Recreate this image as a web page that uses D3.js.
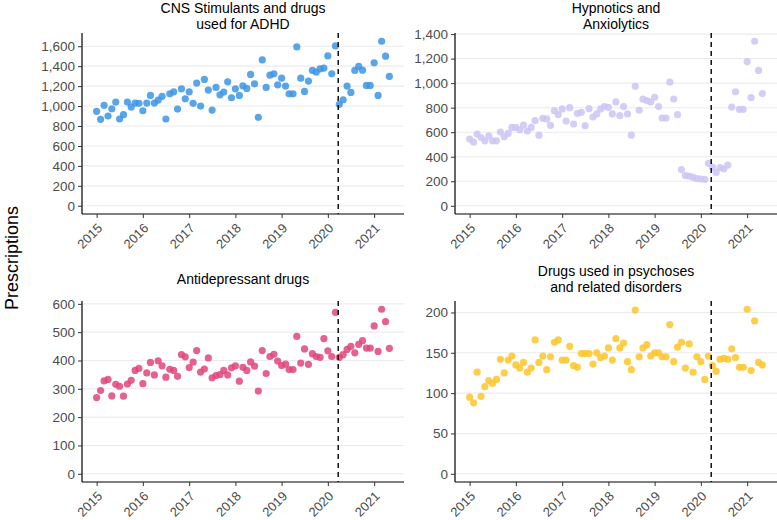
<!DOCTYPE html>
<html>
<head>
<meta charset="utf-8">
<script src="https://cdn.jsdelivr.net/npm/d3@7"></script>
<style>
  html, body { margin: 0; padding: 0; background: #fff; }
  svg { display: block; font-family: "Liberation Sans", Arial, sans-serif; }
</style>
</head>
<body>
<svg id="chart" width="777" height="520"></svg>
<script>
// ---- data ----
const startMonth = "2015-01-01";
const endMonth = "2021-05-01";
const lockdownDate = "2020-03-23";
const yearTicks = ["2015", "2016", "2017", "2018", "2019", "2020", "2021"];

const titles = [
  ["CNS Stimulants and drugs", "used for ADHD"],
  ["Hypnotics and", "Anxiolytics"],
  ["Antidepressant drugs"],
  ["Drugs used in psychoses", "and related disorders"]
];

const adhd = [947,867,1007,900,973,1040,870,913,1040,990,
  1030,1027,953,1030,1107,1030,1060,1097,870,1123,
  1143,970,1173,1073,1143,1027,1230,1000,1267,1160,
  960,1187,1113,1140,1243,1083,1173,1107,1203,1177,
  1317,1223,887,1463,1187,1310,1323,1213,1280,1200,
  1123,1123,1593,1280,1147,1250,1357,1340,1373,1380,
  1503,1323,1603,1017,1063,1200,1137,1357,1397,1360,
  1207,1207,1433,1107,1650,1500,1297];

const hypnotics = [544,519,585,557,530,571,530,530,601,563,
  590,639,639,620,658,609,639,694,576,713,
  708,656,776,743,790,691,800,667,754,762,
  653,792,724,749,790,809,803,749,847,735,
  809,749,576,975,779,869,858,847,885,809,
  716,716,1008,871,743,295,247,241,232,222,
  218,216,347,315,272,312,302,332,805,930,
  787,787,1176,883,1342,1104,915];

const antidepressants = [269,294,328,333,275,316,309,274,317,330,
  365,372,318,356,393,349,399,381,341,369,
  365,344,421,413,375,394,435,359,370,409,
  339,347,350,365,349,374,381,327,376,365,
  395,380,292,435,354,414,422,398,382,387,
  368,368,485,391,441,386,424,414,411,477,
  434,414,570,411,421,439,450,427,457,470,
  444,444,522,432,581,537,443];

const psychoses = [95,88,126,96,108,115.5,112,117,142,125,
  141,146,135,131,138,126,131,166,138,146,
  129,145,163,166,141,141,158,134,132,149,
  149,149,136,150,144,146,156,141,167.5,156,
  162,139,129,203,145,156,160,146,150,150,
  145,145,185,139,157,163,131,161,126,145,
  139,117,146,134,127,142,143,142,155,144,
  132,132,204,128,189.5,138,135];

const yTickValues = [
  [0,200,400,600,800,1000,1200,1400,1600],
  [0,200,400,600,800,1000,1200,1400],
  [0,100,200,300,400,500,600],
  [0,50,100,150,200]
];

const seriesList = [adhd, hypnotics, antidepressants, psychoses];
const colors = ["#3b95e6", "#cdc5f4", "#e0457b", "#fdc62a"];

// ---- layout ----
const svg = d3.select("#chart");
const panels = [
  {x0: 82, x1: 404, y0: 33, y1: 214, titleY: [13, 29]},
  {x0: 455, x1: 777, y0: 33, y1: 214, titleY: [13, 29]},
  {x0: 82, x1: 404, y0: 301, y1: 482, titleY: [284]},
  {x0: 455, x1: 777, y0: 301, y1: 482, titleY: [276, 292]}
];

const parse = d3.utcParse("%Y-%m-%d");
const months = d3.utcMonth.range(parse(startMonth), d3.utcMonth.offset(parse(endMonth), 1));
const t0 = parse(startMonth).getTime(), t1 = parse(endMonth).getTime();
const pad = (t1 - t0) * 0.05;

panels.forEach((p, i) => {
  const vals = seriesList[i];
  const data = months.map((m, k) => ({date: m, value: vals[k]}));
  const x = d3.scaleUtc()
    .domain([new Date(t0 - pad), new Date(t1 + pad)])
    .range([p.x0, p.x1]);
  const maxV = d3.max(vals);
  const y = d3.scaleLinear()
    .domain([-0.05 * maxV, 1.05 * maxV])
    .range([p.y1, p.y0]);

  const g = svg.append("g");

  // grid
  g.selectAll("line.grid").data(yTickValues[i]).enter().append("line")
    .attr("x1", p.x0).attr("x2", p.x1)
    .attr("y1", d => y(d)).attr("y2", d => y(d))
    .attr("stroke", "#ebebeb").attr("stroke-width", 1.1);

  // y axis
  const yAxis = d3.axisLeft(y).tickValues(yTickValues[i])
    .tickFormat(d3.format(",")).tickSize(4).tickPadding(3);
  const ya = g.append("g").attr("transform", `translate(${p.x0},0)`).call(yAxis);
  ya.select(".domain").attr("d", `M0,${p.y0}V${p.y1}`).attr("stroke", "#000").attr("stroke-width", 1.2);
  ya.selectAll(".tick line").attr("stroke", "#333");
  ya.selectAll(".tick text").attr("fill", "#4d4d4d").style("font-size", "13.5px")
    .style("font-family", "Liberation Sans, Arial, sans-serif");

  // x axis
  const xAxis = d3.axisBottom(x)
    .tickValues(yearTicks.map(s => parse(s + "-01-01")))
    .tickFormat(d3.utcFormat("%Y")).tickSize(4).tickPadding(3);
  const xa = g.append("g").attr("transform", `translate(0,${p.y1})`).call(xAxis);
  xa.select(".domain").attr("d", `M${p.x0},0H${p.x1}`).attr("stroke", "#000").attr("stroke-width", 1.2);
  xa.selectAll(".tick line").attr("stroke", "#333");
  xa.selectAll(".tick text")
    .attr("fill", "#4d4d4d").style("font-size", "13px")
    .style("font-family", "Liberation Sans, Arial, sans-serif")
    .attr("text-anchor", "end")
    .attr("y", 0).attr("dy", "0")
    .attr("transform", "translate(6,15) rotate(-45)");

  // points
  g.selectAll("circle").data(data).enter().append("circle")
    .attr("cx", d => x(d.date))
    .attr("cy", d => y(d.value))
    .attr("r", 3.6)
    .attr("fill", colors[i])
    .attr("fill-opacity", 0.85);

  // lockdown line
  const lx = x(parse(lockdownDate));
  g.append("line")
    .attr("x1", lx).attr("x2", lx).attr("y1", p.y0).attr("y2", p.y1)
    .attr("stroke", "#000").attr("stroke-width", 1.4)
    .attr("stroke-dasharray", "5,4");

  // title
  const cx = (p.x0 + p.x1) / 2;
  titles[i].forEach((line, j) => {
    svg.append("text").attr("x", cx).attr("y", p.titleY[j])
      .attr("text-anchor", "middle").attr("fill", "#000")
      .style("font-size", "14px").text(line);
  });
});

svg.append("text")
  .attr("transform", "translate(18,258) rotate(-90)")
  .attr("text-anchor", "middle")
  .style("font-size", "18px").attr("fill", "#000")
  .text("Prescriptions");
</script>
</body>
</html>
